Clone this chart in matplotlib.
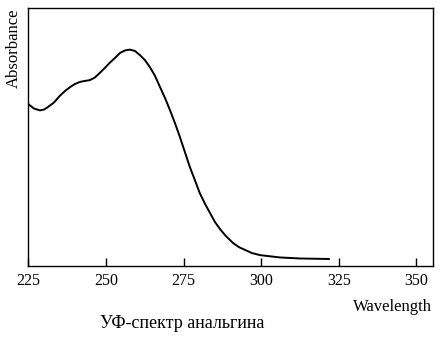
import matplotlib.pyplot as plt

wavelength = [225, 226.8, 228.7, 230.0, 231.3, 233.2, 235.1, 236.8, 238.4, 240.0,
              241.6, 243.2, 244.8, 246.4, 248.0, 249.6, 251.2, 252.9, 254.5, 256.1,
              257.7, 259.3, 260.9, 262.5, 264.1, 265.8, 267.4, 269.0, 270.6, 272.2,
              273.8, 275.4, 277.0, 278.6, 280.2, 281.9, 283.5, 285.1, 286.7, 288.6,
              290.9, 292.8, 294.8, 297.0, 299.6, 306.0, 312.5, 321.8]
absorbance = [0.628, 0.611, 0.604, 0.607, 0.617, 0.634, 0.660, 0.679, 0.694, 0.706,
              0.714, 0.718, 0.721, 0.731, 0.749, 0.768, 0.788, 0.807, 0.826, 0.836,
              0.839, 0.834, 0.818, 0.799, 0.772, 0.737, 0.694, 0.652, 0.605, 0.555,
              0.501, 0.443, 0.385, 0.335, 0.284, 0.242, 0.207, 0.172, 0.145, 0.118,
              0.091, 0.075, 0.064, 0.052, 0.044, 0.035, 0.031, 0.029]
xticks = [225, 250, 275, 300, 325, 350]

plt.rcParams['font.family'] = ['Liberation Serif', 'DejaVu Serif']

fig = plt.figure(figsize=(4.44, 3.5), dpi=100)
ax = fig.add_axes([0.064, 0.2386, 0.911, 0.7385])

ax.plot(wavelength, absorbance, color='black', linewidth=1.4,
        solid_joinstyle='round')

ax.set_xlim(225, 355.3)
ax.set_ylim(0, 1)
ax.set_xticks(xticks)
ax.set_yticks([])
ax.tick_params(axis='x', direction='in', length=6, width=1, labelsize=11.5, pad=5)
for s in ax.spines.values():
    s.set_linewidth(1)

fig.text(14 / 444, 1 - 48 / 350, 'Absorbance', rotation=90,
         ha='center', va='center', fontsize=12)
fig.text(432 / 444, 1 - 307 / 350, 'Wavelength', ha='right', va='center',
         fontsize=12)
fig.text(182 / 444, 1 - 323 / 350, 'УФ-спектр анальгина', ha='center',
         va='center', fontsize=13)

fig.savefig('out.png', dpi=100)
